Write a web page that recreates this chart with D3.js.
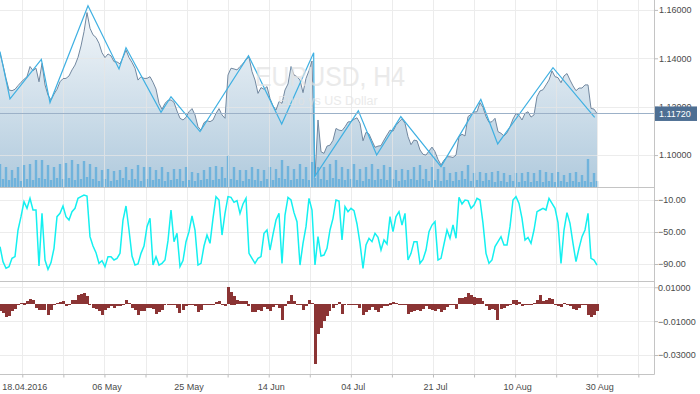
<!DOCTYPE html>
<html><head><meta charset="utf-8">
<script src="https://cdn.jsdelivr.net/npm/d3@7"></script>
<style>
body{margin:0;background:#fff}
svg{display:block}
text{font-family:"Liberation Sans",Arial,sans-serif}
</style>
</head><body>
<svg id="c" width="700" height="394"></svg>
<script>
// ---- data (one sample every H4 bar group) ----
const price = [
1.1421,1.1372,1.1317,1.1269,1.1266,1.1272,1.1287,1.1301,1.1313,1.1324,
1.1366,1.1349,1.1359,1.1303,1.1379,1.1290,1.1248,1.1228,1.1252,1.1272,
1.1303,1.1316,1.1317,1.1327,1.1352,1.1372,1.1404,1.1451,1.1510,1.1589,
1.1524,1.1497,1.1486,1.1462,1.1423,1.1403,1.1418,1.1410,1.1386,1.1385,
1.1377,1.1404,1.1434,1.1403,1.1383,1.1359,1.1310,1.1324,1.1317,1.1317,
1.1324,1.1301,1.1273,1.1214,1.1189,1.1214,1.1226,1.1228,1.1218,1.1182,
1.1152,1.1145,1.1156,1.1179,1.1192,1.1166,1.1117,1.1103,1.1134,1.1142,
1.1138,1.1145,1.1172,1.1192,1.1166,1.1152,1.1331,1.1359,1.1356,1.1352,
1.1366,1.1378,1.1396,1.1404,1.1345,1.1310,1.1255,1.1279,1.1272,1.1283,
1.1234,1.1203,1.1186,1.1221,1.1214,1.1269,1.1294,1.1366,1.1331,1.1324,
1.1310,1.1258,1.1317,1.1349,1.1389,1.0913,1.1145,1.1014,1.1007,1.1037,
1.1041,1.1061,1.1110,1.1103,1.1101,1.1117,1.1137,1.1138,1.1148,1.1154,
1.1131,1.1059,1.1094,1.1087,1.1059,1.1032,1.1037,1.1039,1.1062,1.1083,
1.1103,1.1099,1.1123,1.1137,1.1150,1.1131,1.1076,1.1043,1.1062,1.1059,
1.1021,1.1003,1.1000,1.1017,1.1033,1.1014,1.0982,1.0959,1.0979,1.0993,
1.0993,1.0990,1.1000,1.1076,1.1086,1.1079,1.1159,1.1168,1.1178,1.1179,
1.1217,1.1197,1.1159,1.1135,1.1138,1.1152,1.1097,1.1090,1.1079,1.1092,
1.1117,1.1149,1.1172,1.1164,1.1145,1.1172,1.1179,1.1157,1.1166,1.1241,
1.1265,1.1270,1.1290,1.1310,1.1348,1.1324,1.1320,1.1299,1.1327,1.1337,
1.1310,1.1286,1.1266,1.1277,1.1277,1.1290,1.1290,1.1193,1.1190,1.1172];

const volume = [
23,8,20,7,17,9,20,6,22,8, 23,7,27,9,27,8,22,7,20,9,
23,8,24,9,27,7,23,8,26,10, 23,8,20,6,17,8,18,6,16,7,
17,9,20,7,18,8,22,6,20,8, 20,7,17,8,20,6,15,7,18,8,
18,6,20,7,15,6,14,7,17,8, 20,7,21,8,20,9,32,8,20,7,
17,6,17,8,20,7,18,6,17,8, 20,7,18,9,27,8,21,7,18,8,
23,8,20,7,25,9,20,8,20,7, 23,9,27,8,20,7,18,8,23,7,
18,6,20,8,23,7,18,8,22,7, 20,8,17,6,18,7,17,8,20,7,
22,8,18,6,20,7,18,6,20,7, 14,6,15,7,16,8,22,6,14,7,
15,6,14,7,15,5,16,6,14,5, 12,6,14,5,14,6,15,5,14,6,
17,5,15,6,14,5,15,6,12,5, 14,6,15,5,12,6,28,5,14,6];

const wpr = [
-68.3,-87.1,-95.4,-93.3,-82.9,-80.8,-47.5,-30.8,-12.1,-20.4,
-7.9,-22.5,-22.5,-92.5,-26.7,-85.0,-96.7,-88.3,-70.4,-30.8,
-26.7,-17.5,-30.8,-35.0,-24.6,-20.4,-7.9,-5.8,-3.8,-5.0,
-55.8,-67.5,-75.8,-89.2,-85.8,-93.3,-80.8,-80.8,-85.0,-82.9,
-76.7,-35.0,-17.5,-47.5,-80.0,-91.3,-90.0,-76.7,-67.5,-43.3,
-32.9,-91.3,-80.8,-91.3,-89.2,-85.0,-60.8,-22.5,-62.1,-51.7,
-93.3,-85.8,-62.1,-49.6,-30.0,-47.5,-91.3,-89.2,-67.5,-53.8,
-64.2,-32.9,-5.8,-10.0,-53.8,-26.7,-5.8,-6.7,-12.9,-10.8,
-26.7,-15.0,-7.9,-76.7,-82.9,-89.2,-82.9,-80.8,-51.7,-47.5,
-72.5,-52.9,-35.0,-26.7,-89.2,-28.8,-6.7,-10.0,-25.8,-37.1,
-91.3,-64.2,-43.3,-7.9,-22.5,-91.3,-55.8,-80.0,-78.8,-70.4,
-47.5,-32.9,-10.0,-11.3,-60.0,-18.3,-24.6,-20.4,-23.3,-40.0,
-64.2,-95.4,-66.3,-57.9,-62.1,-51.7,-56.7,-72.5,-60.0,-65.0,
-30.8,-49.6,-30.8,-24.6,-41.3,-26.7,-85.0,-76.7,-62.1,-62.1,
-89.2,-84.2,-72.5,-49.6,-41.3,-37.1,-85.0,-82.9,-65.0,-47.5,
-57.9,-41.3,-57.9,-6.7,-15.0,-10.0,-10.8,-20.4,-16.3,-7.9,
-10.0,-39.2,-76.7,-89.2,-85.0,-68.3,-62.1,-55.8,-66.3,-66.3,
-43.3,-10.0,-5.8,-14.2,-32.9,-60.0,-56.7,-64.2,-47.5,-24.6,
-22.5,-20.4,-22.5,-7.9,-14.2,-20.4,-38.3,-89.2,-47.5,-25.8,
-39.2,-64.2,-87.1,-70.4,-55.8,-47.5,-26.7,-82.9,-85.0,-91.3];

const hist = [
-0.0043,-0.0053,-0.0077,-0.0069,-0.0043,-0.0029,-0.0006,0.0006,0.0010,0.0018,
0.0029,0.0025,-0.0024,-0.0037,-0.0033,-0.0037,-0.0063,-0.0033,-0.0004,0.0006,
0.0014,0.0016,-0.0010,0.0002,0.0022,0.0025,0.0053,0.0061,0.0065,0.0049,
-0.0002,-0.0024,-0.0029,-0.0039,-0.0063,-0.0033,-0.0022,-0.0014,-0.0024,-0.0014,
-0.0014,-0.0002,0.0022,0.0006,-0.0024,-0.0033,-0.0063,-0.0043,-0.0043,-0.0025,
-0.0024,-0.0029,-0.0057,-0.0047,-0.0037,-0.0004,0.0000,-0.0006,-0.0006,-0.0025,
-0.0053,-0.0035,-0.0014,0.0004,-0.0002,-0.0014,-0.0049,-0.0037,-0.0002,0.0002,
-0.0004,0.0002,0.0014,0.0020,-0.0004,-0.0014,0.0100,0.0074,0.0051,0.0025,
0.0016,0.0020,0.0018,-0.0010,-0.0045,-0.0045,-0.0035,-0.0041,-0.0018,-0.0029,
-0.0043,-0.0018,-0.0004,-0.0024,-0.0096,-0.0014,0.0016,0.0055,0.0016,0.0000,
-0.0004,-0.0037,-0.0014,0.0022,0.0006,-0.0353,-0.0175,-0.0140,-0.0102,-0.0073,
-0.0043,-0.0024,0.0002,0.0012,-0.0057,-0.0004,0.0002,0.0002,0.0000,0.0000,
-0.0024,-0.0063,-0.0047,-0.0033,-0.0018,-0.0033,-0.0047,-0.0022,-0.0010,-0.0010,
0.0010,0.0014,0.0006,0.0004,0.0002,-0.0004,-0.0059,-0.0047,-0.0043,-0.0033,
-0.0043,-0.0029,-0.0010,-0.0029,-0.0033,-0.0043,-0.0029,-0.0049,-0.0037,-0.0018,
0.0002,0.0000,-0.0029,0.0035,0.0035,0.0041,0.0065,0.0053,0.0045,0.0035,
0.0035,0.0018,-0.0014,-0.0033,-0.0027,-0.0037,-0.0092,-0.0027,-0.0024,-0.0012,
-0.0004,0.0025,0.0027,0.0012,-0.0010,-0.0004,-0.0002,0.0002,0.0006,0.0025,
0.0053,0.0020,0.0022,0.0035,0.0029,0.0002,-0.0010,-0.0018,0.0006,0.0002,
-0.0014,-0.0029,-0.0037,-0.0024,-0.0006,0.0000,-0.0063,-0.0078,-0.0065,-0.0043];

const zigIdx   = [0, 3.33, 13.78, 16.67, 29.33, 39.67, 42, 53.67, 57, 66.67, 82.83, 93.9, 104.56, 104.83, 119.44, 125.56, 133.6, 147, 160.28, 165.9, 184.33, 198.22];
const zigPrice = [1.1428, 1.1232, 1.1396, 1.1217, 1.1617, 1.1356, 1.1444, 1.1177, 1.1241, 1.1097, 1.1411, 1.1128, 1.1423, 1.0910, 1.1183, 1.1000, 1.1159, 1.0952, 1.1230, 1.1046, 1.1361, 1.1156];

const tickIdx    = [7.43, 21.12, 34.81, 48.5, 62.19, 75.88, 89.57, 103.26, 116.95, 130.64, 144.33, 158.02, 171.71, 185.4, 199.09, 212.78];
const tickLabels = ["18.04.2016","","06 May","","25 May","","14 Jun","","04 Jul","","21 Jul","","10 Aug","","30 Aug",""];
const priceTicks = [1.10, 1.12, 1.14, 1.16];
const wprTicks   = [-10, -50, -90];
const histTicks  = [0.01, -0.01, -0.03];
const lastPrice  = 1.1172;
const symbol = "EURUSD, H4";
const symbolDesc = "Euro vs US Dollar";

// ---- layout ----
const svg = d3.select("#c");
const PW = 654;
const x  = d3.scaleLinear().domain([0, price.length - 1]).range([0, 597]);
const yP = d3.scaleLinear().domain([1.0868, 1.1641]).range([187, 0]);
const yV = d3.scaleLinear().domain([0, 100]).range([187, 87]);
const yW = d3.scaleLinear().domain([-112.5, 5]).range([282, 188]);
const yH = d3.scaleLinear().domain([-0.0412, 0.0131]).range([374, 282]);
const crisp = v => Math.round(v) + 0.5;
const tagY = yP(lastPrice);

const defs = svg.append("defs");
const grad = defs.append("linearGradient").attr("id","af").attr("gradientUnits","userSpaceOnUse")
  .attr("x1",0).attr("y1",0).attr("x2",0).attr("y2",187);
grad.append("stop").attr("offset",0).attr("stop-color","#f7f9fb");
grad.append("stop").attr("offset",1).attr("stop-color","#b0cadd");
defs.append("clipPath").attr("id","cp1").append("rect").attr("x",0).attr("y",0).attr("width",PW).attr("height",187);
defs.append("clipPath").attr("id","cp2").append("rect").attr("x",0).attr("y",188).attr("width",PW).attr("height",94);
defs.append("clipPath").attr("id","cp3").append("rect").attr("x",0).attr("y",282).attr("width",PW).attr("height",92);
// the price tag hides the lower part of the 1.12000 label, as in the reference
defs.append("clipPath").attr("id","cpTag").append("rect")
  .attr("x",-20).attr("y",-20).attr("width",80).attr("height",(tagY-7)-yP(1.12)+20);

// ---- top panel ----
const topG = svg.append("g").attr("clip-path","url(#cp1)");
topG.append("path").datum(price)
  .attr("d", d3.area().x((d,i)=>x(i)).y0(187).y1(d=>yP(d)))
  .attr("fill","url(#af)");
topG.selectAll("rect.vol").data(volume).join("rect").attr("class","vol")
  .attr("x",(d,i)=>x(i)-1.2).attr("width",2.4)
  .attr("y",d=>yV(d)).attr("height",d=>187-yV(d))
  .attr("fill","#70b3dc");

// grid (drawn over the area, faint)
const grid = svg.append("g").attr("stroke","#e6e6e6").attr("stroke-width",1).attr("opacity",0.75);
grid.selectAll("line.v").data(tickIdx).join("line").attr("class","v")
  .attr("x1",d=>crisp(x(d))).attr("x2",d=>crisp(x(d))).attr("y1",0).attr("y2",374);
grid.selectAll("line.hp").data(priceTicks).join("line").attr("class","hp")
  .attr("x1",0).attr("x2",PW).attr("y1",d=>crisp(yP(d))).attr("y2",d=>crisp(yP(d)));
grid.selectAll("line.hw").data(wprTicks).join("line").attr("class","hw")
  .attr("x1",0).attr("x2",PW).attr("y1",d=>crisp(yW(d))).attr("y2",d=>crisp(yW(d)));
grid.selectAll("line.hh").data(histTicks).join("line").attr("class","hh")
  .attr("x1",0).attr("x2",PW).attr("y1",d=>crisp(yH(d))).attr("y2",d=>crisp(yH(d)));

const topL = svg.append("g").attr("clip-path","url(#cp1)");
topL.append("path").datum(price)
  .attr("d", d3.line().x((d,i)=>x(i)).y(d=>yP(d)))
  .attr("fill","none").attr("stroke","#7288a0").attr("stroke-width",1);
topL.append("path").datum(zigIdx.map((d,i)=>[d, zigPrice[i]]))
  .attr("d", d3.line().x(d=>x(d[0])).y(d=>yP(d[1])))
  .attr("fill","none").attr("stroke","#3fb0e2").attr("stroke-width",1.2);
topL.append("line").attr("x1",0).attr("x2",PW)
  .attr("y1",crisp(tagY)).attr("y2",crisp(tagY))
  .attr("stroke","#9cb1c8").attr("stroke-width",1);

// watermark
svg.append("text").attr("x",330).attr("y",86).attr("text-anchor","middle")
  .attr("font-size",28).attr("textLength",150).attr("lengthAdjust","spacingAndGlyphs")
  .attr("fill","#e2e2e2").attr("opacity",0.7).text(symbol);
svg.append("text").attr("x",328).attr("y",105).attr("text-anchor","middle")
  .attr("font-size",12.5).attr("fill","#e2e2e2").attr("opacity",0.7).text(symbolDesc);

// ---- oscillator ----
svg.append("g").attr("clip-path","url(#cp2)").append("path").datum(wpr)
  .attr("d", d3.line().x((d,i)=>x(i)).y(d=>yW(d)))
  .attr("fill","none").attr("stroke","#14f0f0").attr("stroke-width",1.5);

// ---- histogram ----
svg.append("g").attr("clip-path","url(#cp3)").attr("shape-rendering","crispEdges")
  .selectAll("rect").data(hist).join("rect")
  .attr("x",(d,i)=>Math.round(x(i)-1.5)).attr("width",3)
  .attr("y",d=>Math.round(Math.min(yH(d), yH(0))))
  .attr("height",d=>Math.max(1, Math.round(Math.abs(yH(d)-yH(0)))))
  .attr("fill","#8b3434");

// ---- borders ----
const bd = svg.append("g").attr("stroke","#c4c4c4").attr("stroke-width",1);
bd.append("line").attr("x1",0).attr("x2",PW).attr("y1",187.5).attr("y2",187.5);
bd.append("line").attr("x1",0).attr("x2",PW).attr("y1",281.5).attr("y2",281.5);
bd.append("line").attr("x1",0).attr("x2",PW+0.5).attr("y1",374.5).attr("y2",374.5);
bd.append("line").attr("x1",PW+0.5).attr("x2",PW+0.5).attr("y1",0).attr("y2",374.5);

// ---- axes ----
function styleAxis(sel){
  sel.select(".domain").remove();
  sel.selectAll(".tick line").attr("stroke","#bdbdbd");
  sel.selectAll(".tick text").attr("fill","#4a4a4a").attr("font-size",9)
     .attr("font-family","'Liberation Sans',Arial,sans-serif");
}
const pa = svg.append("g").attr("transform",`translate(${PW},0)`)
  .call(d3.axisRight(yP).tickValues(priceTicks).tickFormat(d3.format(".5f")).tickSize(4).tickPadding(1))
  .call(styleAxis);
pa.selectAll(".tick").filter(d=>d===1.12).select("text").attr("clip-path","url(#cpTag)");
svg.append("g").attr("transform",`translate(${PW},0)`)
  .call(d3.axisRight(yW).tickValues(wprTicks).tickFormat(d3.format(".2f")).tickSize(4).tickPadding(0))
  .call(styleAxis);
svg.append("g").attr("transform",`translate(${PW},0)`)
  .call(d3.axisRight(yH).tickValues(histTicks).tickFormat(d3.format(".5f")).tickSize(4).tickPadding(0))
  .call(styleAxis);
const xa = svg.append("g").attr("transform","translate(0,374.5)")
  .call(d3.axisBottom(x).tickValues(tickIdx).tickFormat((d,i)=>tickLabels[i]).tickSize(3).tickPadding(6))
  .call(styleAxis);
xa.selectAll(".tick text").attr("dx",2);

// current price tag
svg.append("rect").attr("x",PW+1).attr("y",tagY-7).attr("width",42).attr("height",14.5).attr("fill","#4e6f93");
svg.append("text").attr("x",PW+5).attr("y",tagY+3.5).attr("font-size",9).attr("fill","#fff")
  .text(d3.format(".5f")(lastPrice));
</script>
</body></html>
